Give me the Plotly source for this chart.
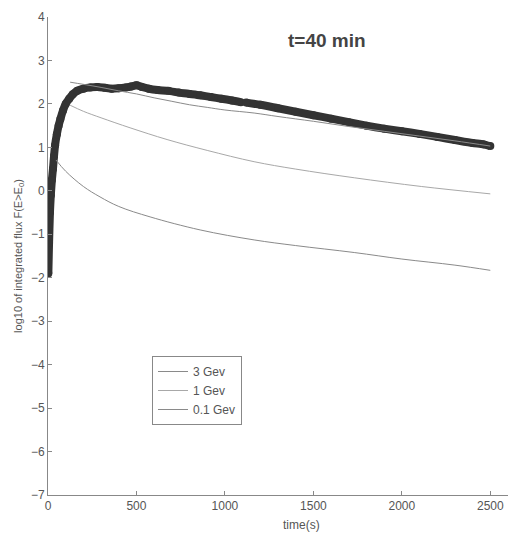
import plotly.graph_objects as go

# measured flux (thick dotted curve)
t_obs = [2, 6, 11, 16, 22, 28, 34, 40, 50, 60, 70, 85, 100, 120, 140, 165, 200, 240, 280,
         320, 360, 400, 440, 470, 500, 530, 570, 620, 680, 740, 800, 860, 920, 980, 1040,
         1090, None, 1120, 1200, 1300, 1400, 1500, 1600, 1700, 1800, 1900, 2000, 2100,
         2200, 2300, 2400, 2460, 2500]
f_obs = [-1.9, -1.2, -0.5, -0.1, 0.25, 0.5, 0.8, 1.05, 1.3, 1.5, 1.65, 1.85, 2.0, 2.12,
         2.22, 2.3, 2.35, 2.38, 2.39, 2.37, 2.35, 2.36, 2.38, 2.4, 2.43, 2.39, 2.35, 2.32,
         2.3, 2.26, 2.23, 2.2, 2.16, 2.12, 2.08, 2.04, None, 2.03, 1.98, 1.9, 1.82, 1.74,
         1.66, 1.58, 1.5, 1.43, 1.37, 1.31, 1.24, 1.17, 1.1, 1.07, 1.03]

# model curves
t_3gev = [125, 200, 300, 400, 500, 600, 700, 800, 900, 1000, 1165, 1300, 1500, 1700, 1900,
          2100, 2300, 2500]
f_3gev = [2.5, 2.45, 2.38, 2.3, 2.23, 2.14, 2.06, 1.98, 1.92, 1.86, 1.79, 1.71, 1.6, 1.48,
          1.37, 1.26, 1.15, 1.03]

t_1gev = [125, 200, 300, 464, 673, 900, 1165, 1400, 1731, 2110, 2500]
f_1gev = [1.97, 1.83, 1.68, 1.45, 1.18, 0.93, 0.67, 0.5, 0.3, 0.1, -0.07]

t_01gev = [45, 100, 200, 294, 400, 577, 860, 1165, 1400, 1731, 2000, 2300, 2500]
f_01gev = [0.71, 0.45, 0.1, -0.14, -0.36, -0.6, -0.9, -1.13, -1.26, -1.42, -1.57, -1.71, -1.83]

x_ticks = [0, 500, 1000, 1500, 2000, 2500]
y_ticks = [4, 3, 2, 1, 0, -1, -2, -3, -4, -5, -6, -7]

fig = go.Figure()
fig.add_trace(go.Scatter(x=t_obs, y=f_obs, mode="lines+markers", showlegend=False,
                         line=dict(color="#333333", width=8, shape="spline", smoothing=0.6),
                         marker=dict(color="#333333", size=8)))
fig.add_trace(go.Scatter(x=t_3gev, y=f_3gev, mode="lines", name="3 Gev",
                         line=dict(color="#8a8a8a", width=1, shape="spline")))
fig.add_trace(go.Scatter(x=t_1gev, y=f_1gev, mode="lines", name="1 Gev",
                         line=dict(color="#a8a8a8", width=1, shape="spline")))
fig.add_trace(go.Scatter(x=t_01gev, y=f_01gev, mode="lines", name="0.1 Gev",
                         line=dict(color="#8a8a8a", width=1, shape="spline")))

axis_font = dict(family="Liberation Sans, Arial, sans-serif", size=12, color="#555")
fig.update_layout(
    width=508, height=533,
    margin=dict(l=48, r=0, t=17, b=38),
    paper_bgcolor="white", plot_bgcolor="white",
    font=dict(family="Liberation Sans, Arial, sans-serif", color="#555"),
    xaxis=dict(range=[0, 2600], tickvals=x_ticks, ticks="inside", ticklen=4,
               tickcolor="#888", showline=True, linecolor="#888", linewidth=1,
               showgrid=False, zeroline=False, tickfont=axis_font, automargin=False),
    yaxis=dict(range=[-7, 4], tickvals=y_ticks, ticks="inside", ticklen=4,
               tickcolor="#888", showline=True, linecolor="#888", linewidth=1,
               showgrid=False, zeroline=False, tickfont=axis_font, automargin=False,
               title=dict(text="log10 of integrated flux F(E>E<sub>0</sub>)",
                          font=dict(size=11, color="#555"), standoff=6)),
    legend=dict(x=(152 - 48) / 460, y=(495 - 356) / 478, xanchor="left", yanchor="top",
                bgcolor="white", bordercolor="#888", borderwidth=1,
                font=dict(size=12, color="#555"), itemwidth=30,
                tracegroupgap=0),
    showlegend=True,
)
fig.add_annotation(text="<b>t=40 min</b>", x=(327 - 48) / 460, y=(495 - 28) / 478,
                   xref="paper", yref="paper",
                   showarrow=False, font=dict(size=19, color="#444"))
fig.add_annotation(text="time(s)", x=1430, y=0, xref="x", yref="paper", yanchor="top",
                   yshift=-21, showarrow=False, font=dict(size=12, color="#555"))

fig.write_html("out.html", config={"displayModeBar": False},
               post_script="document.body.style.margin='0';")
